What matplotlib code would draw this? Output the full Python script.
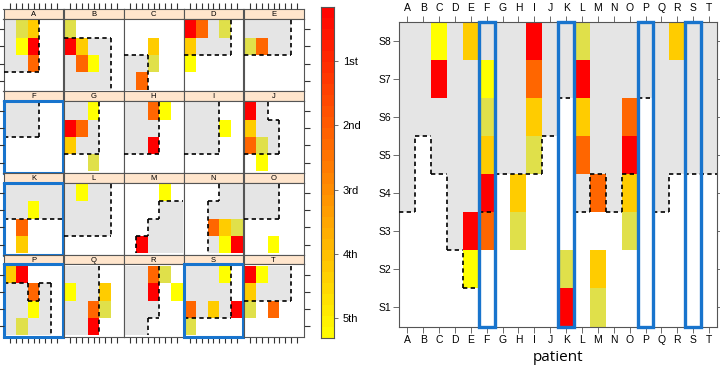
import numpy as np
import matplotlib
matplotlib.use('Agg')
import matplotlib.pyplot as plt
from matplotlib.patches import Rectangle
from matplotlib.collections import LineCollection
from matplotlib.colors import LinearSegmentedColormap

plt.rcParams['font.family'] = ['Liberation Sans', 'DejaVu Sans']

patients = list('ABCDEFGHIJKLMNOPQRST')
stages = ['S1', 'S2', 'S3', 'S4', 'S5', 'S6', 'S7', 'S8']
rank_labels = ['1st', '2nd', '3rd', '4th', '5th']
rank_colors = {'1': '#FF0000', '2': '#FF6600', '3': '#FFCC00', '4': '#E0E04A', '5': '#FFFF00'}
boxed = ['F', 'K', 'P', 'S']

# right panel: lowest stage that is shaded grey, per patient
grey_from = [4, 6, 5, 3, 2, 4, 5, 5, 5, 6, 7, 4, 5, 4, 5, 7, 4, 5, 5, 5]
# rank per stage, S1..S8 ('.' = none)
stage_ranks = {
    'C': '......15', 'E': '.51....3', 'F': '..21345.', 'H': '..43....',
    'I': '....4321', 'K': '14......', 'L': '....2314', 'M': '43.2....',
    'O': '..4312..', 'R': '.......3',
}

# left panels: 4 rows x 5 cols, top row first
panel_grey = {
    'A': ['11100', '11100', '11100', '00000'],
    'B': ['00000', '11110', '11110', '11110'],
    'C': ['00000', '00000', '11000', '11000'],
    'D': ['11110', '11110', '00000', '00000'],
    'E': ['11110', '11110', '00000', '00000'],
    'F': ['11100', '11100', '00000', '00000'],
    'G': ['11100', '11100', '11100', '00000'],
    'H': ['11100', '11100', '11100', '00000'],
    'I': ['11100', '11100', '11100', '00000'],
    'J': ['11000', '11100', '11100', '00000'],
    'K': ['11111', '11111', '00000', '00000'],
    'L': ['11110', '11110', '11110', '00000'],
    'M': ['00000', '00011', '00111', '01111'],
    'N': ['00011', '00111', '00111', '00111'],
    'O': ['11100', '11100', '00000', '00000'],
    'P': ['00000', '11010', '11110', '11110'],
    'Q': ['11100', '11100', '11100', '11100'],
    'R': ['11100', '11100', '11100', '11000'],
    'S': ['11110', '11110', '11110', '00000'],
    'T': ['11110', '11110', '00000', '00000'],
}
panel_ranks = {
    'A': ['.43..', '.51..', '..2..', '.....'],
    'B': ['4....', '13...', '.25..', '.....'],
    'C': ['.....', '..3..', '..4..', '.2...'],
    'D': ['12.4.', '3....', '5....', '.....'],
    'E': ['.....', '42...', '.....', '.....'],
    'F': ['.....', '.....', '.....', '.....'],
    'G': ['..5..', '12...', '3....', '..4..'],
    'H': ['..25.', '.....', '..1..', '.....'],
    'I': ['.....', '...5.', '.....', '.....'],
    'J': ['1....', '3....', '24...', '.5...'],
    'K': ['.....', '..5..', '.2...', '.3...'],
    'L': ['.5...', '.....', '.....', '.....'],
    'M': ['...5.', '.....', '.....', '.1...'],
    'N': ['.....', '.....', '..234', '...51'],
    'O': ['.....', '.....', '.....', '..5..'],
    'P': ['31...', '..2..', '..5..', '.4...'],
    'Q': ['.....', '5..3.', '..24.', '..1..'],
    'R': ['..24.', '..1.5', '.....', '.....'],
    'S': ['...5.', '.....', '2.3.1', '4....'],
    'T': ['15...', '3....', '4.2..', '.....'],
}

GREY = '#E5E5E5'
BLUE = '#1874CD'
FRAME = '#555555'
TICK = '#333333'
DASH = (0, (2.6, 2.0))

W, H = 720, 373
fig = plt.figure(figsize=(W / 100, H / 100), dpi=100)


def px(l, t, r, b):
    return [l / W, 1 - b / H, (r - l) / W, (b - t) / H]


def boundary(mask):
    # dashed edges between grey and white cells, merged into runs
    ny, nx = mask.shape
    segs = []
    for i in range(ny - 1):
        run = None
        for j in range(nx + 1):
            edge = j < nx and mask[i, j] != mask[i + 1, j]
            if edge and run is None:
                run = j
            if not edge and run is not None:
                segs.append([(run - 0.5, i + 0.5), (j - 0.5, i + 0.5)])
                run = None
    for j in range(nx - 1):
        run = None
        for i in range(ny + 1):
            edge = i < ny and mask[i, j] != mask[i, j + 1]
            if edge and run is None:
                run = i
            if not edge and run is not None:
                segs.append([(j + 0.5, run - 0.5), (j + 0.5, i - 0.5)])
                run = None
    return segs


def draw_cells(ax, mask, ranks, yoff=0.0):
    ny, nx = mask.shape
    for i in range(ny):
        for j in range(nx):
            if mask[i, j]:
                ax.add_patch(Rectangle((j - 0.5, i - 0.5 + yoff), 1, 1, fc=GREY, ec='none', zorder=1))
            if ranks[i][j] != '.':
                ax.add_patch(Rectangle((j - 0.5, i - 0.5 + yoff), 1, 1,
                                       fc=rank_colors[ranks[i][j]], ec='none', zorder=2))
    segs = [[(x, y + yoff) for x, y in s] for s in boundary(mask)]
    ax.add_collection(LineCollection(segs, colors='black', linewidths=1.2, linestyles=DASH, zorder=3))


def frame(ax):
    for s in ax.spines.values():
        s.set_color(FRAME)
        s.set_linewidth(0.8)


# ---- left: small panels
pw, rh, sh = 60.0, 81.85, 9.5
x0, y0 = 3.5, 9.3
ypad = 0.09
xt = np.arange(0, 4.01, 0.5)
for k, p in enumerate(patients):
    r, c = divmod(k, 5)
    left, top = x0 + c * pw, y0 + r * rh
    sax = fig.add_axes(px(left, top, left + pw, top + sh))
    ax = fig.add_axes(px(left, top + sh, left + pw, top + rh))
    sax.set_facecolor('#FFE5CC')
    sax.text(0.5, 0.45, p, ha='center', va='center', fontsize=5.5, transform=sax.transAxes)
    for a in (sax, ax):
        a.set_xlim(-0.52, 4.52)
        a.set_xticks([])
        a.set_yticks([])
        frame(a)
    ax.set_ylim(3.5 + ypad, -0.5 - ypad)
    if r == 3:
        ax.set_xticks(xt)
    if c == 4:
        ax.set_yticks(range(4))
    ax.tick_params(direction='out', length=4, width=0.8, color=TICK,
                   bottom=True, top=False, left=False, right=True,
                   labelbottom=False, labelleft=False, labelright=False)
    mask = np.array([[ch == '1' for ch in row] for row in panel_grey[p]])
    draw_cells(ax, mask, panel_ranks[p])
    if p in boxed:
        ax.add_patch(Rectangle((0, 0), 1, 1, transform=ax.transAxes, fill=False,
                               ec=BLUE, lw=2.2, clip_on=False, zorder=5))

# outer ticks on top (above the strips) and on the left, drawn last
for c in range(5):
    left = x0 + c * pw
    tax = fig.add_axes(px(left, y0, left + pw, y0 + sh), zorder=20)
    tax.patch.set_visible(False)
    for s in tax.spines.values():
        s.set_visible(False)
    tax.set_xlim(-0.52, 4.52)
    tax.set_xticks(xt)
    tax.set_yticks([])
    tax.tick_params(axis='x', direction='out', length=4, width=0.8, color=TICK,
                    top=True, bottom=False, labeltop=False, labelbottom=False)
for r in range(4):
    top = y0 + r * rh + sh
    lax = fig.add_axes(px(x0, top, x0 + pw, y0 + (r + 1) * rh), zorder=20)
    lax.patch.set_visible(False)
    for s in lax.spines.values():
        s.set_visible(False)
    lax.set_ylim(3.5 + ypad, -0.5 - ypad)
    lax.set_yticks(range(4))
    lax.set_xticks([])
    lax.tick_params(axis='y', direction='out', length=4, width=0.8, color=TICK,
                    left=True, right=False, labelleft=False, labelright=False)

# ---- colour key
lo, hi, nb = 0.16, 5.31, 30
cmap = LinearSegmentedColormap.from_list('heat', ['#FF0000', '#FFFF00'])
cax = fig.add_axes(px(320.7, 7.3, 334.3, 337.7))
levels = np.linspace(lo, hi, nb + 1)
mids = (levels[:-1] + levels[1:]) / 2
cax.pcolormesh([0, 1], levels, mids[:, None], cmap=cmap, vmin=lo, vmax=hi)
cax.set_ylim(hi, lo)
cax.set_xticks([])
cax.set_yticks(range(1, 6))
cax.set_yticklabels(rank_labels)
cax.yaxis.tick_right()
frame(cax)
cax.tick_params(axis='y', length=3, width=0.6, color=FRAME, pad=3, labelsize=8)

# ---- right: patient x stage
ax2 = fig.add_axes(px(399.3, 21.7, 717, 326.5))
gmask = np.array([[s + 1 >= g for g in grey_from] for s in range(len(stages))])
granks = [''.join(stage_ranks.get(p, '........')[s] for p in patients) for s in range(len(stages))]
draw_cells(ax2, gmask, granks, yoff=1.0)
for p in boxed:
    j = patients.index(p)
    ax2.add_patch(Rectangle((j - 0.5, 0.5), 1, 8, fill=False, ec=BLUE, lw=2.4, clip_on=False, zorder=5))
ax2.set_xlim(-0.5, 19.5)
ax2.set_ylim(0.5, 8.5)
ax2.set_xticks(range(20))
ax2.set_xticklabels(patients)
ax2.set_yticks(range(1, 9))
ax2.set_yticklabels(stages)
frame(ax2)
ax2.tick_params(which='both', direction='out', length=4, width=0.6, color=FRAME, labelsize=7.5,
                top=True, right=True, labeltop=True, pad=2)
ax2.set_xlabel('patient', fontsize=11, family=['Open Sans', 'DejaVu Sans'], labelpad=4)

fig.savefig('out.png', dpi=100)
